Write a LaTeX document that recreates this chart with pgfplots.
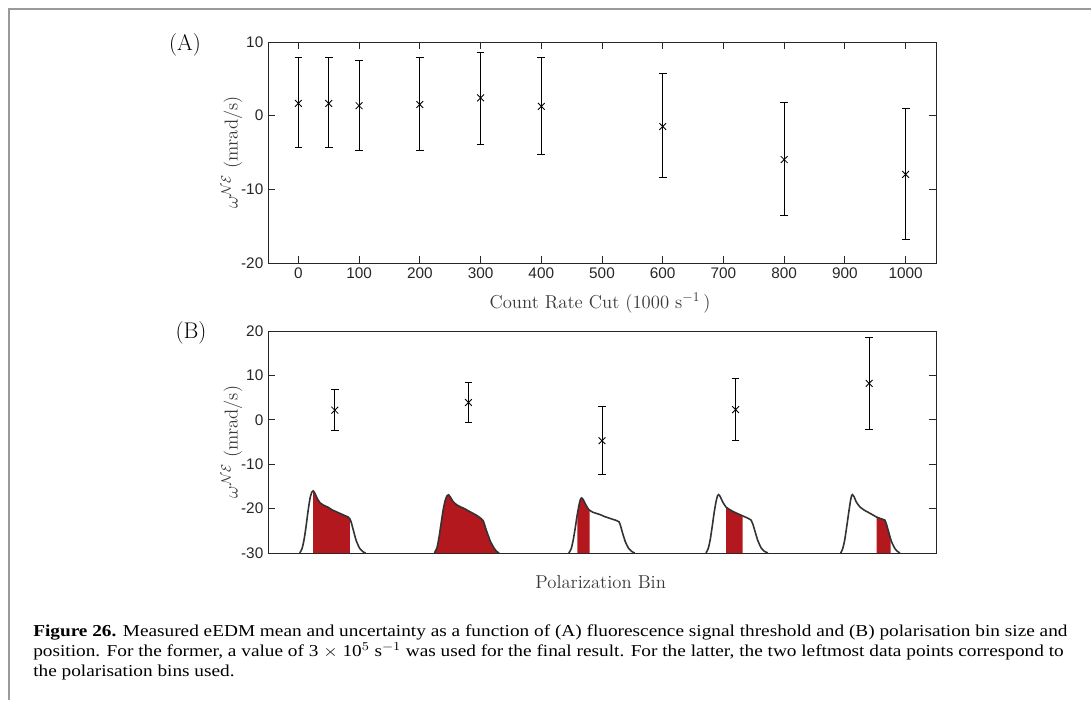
\documentclass[border=0pt]{standalone}
\usepackage{pgfplots}
\pgfplotsset{compat=1.18}
\usepackage{pgfplotstable}
\usepackage{fontspec}
\newfontfamily\ticfont{Liberation Sans}
\newfontfamily\capfont{Liberation Serif}
\definecolor{axcol}{HTML}{262626}
\definecolor{labcol}{HTML}{383838}
\definecolor{fillred}{RGB}{178,24,30}
\definecolor{curvecol}{HTML}{333333}
\definecolor{framecol}{HTML}{9A9A9A}

\pgfplotstableread{
x y ep em
0 1.66 6.19 6.01
50 1.66 6.19 6.01
100 1.35 6.18 6.01
200 1.52 6.33 6.18
300 2.42 6.23 6.28
400 1.26 6.59 6.55
600 -1.48 7.18 6.91
800 -5.96 7.75 7.63
1000 -7.98 8.92 8.88
}\dataA

\pgfplotstableread{
x y ep em
0.5 2.17 4.68 4.67
1.5 3.90 4.50 4.40
2.5 -4.70 7.80 7.60
3.5 2.30 7.00 6.90
4.5 8.20 10.30 10.30
}\dataB

\pgfplotsset{
  myax/.style={scale only axis, width=501pt, height=165.75pt, anchor=south west,
    axis line style={axcol, line width=0.7pt},
    tick style={axcol, line width=0.7pt},
    major tick length=5pt, tick align=inside,
    /pgf/number format/assume math mode=true,
    /pgf/number format/1000 sep={},
    tick label style={font=\ticfont\fontsize{11.5}{13}\selectfont, text=axcol},
    label style={font=\fontsize{14}{16}\selectfont, text=labcol},
    ylabel style={at={(axis description cs:-0.054,0.5)}, anchor=center},
  },
  errpts/.style={only marks, mark=x, mark size=3.6pt, line width=0.65pt, black,
    error bars/.cd, y dir=both, y explicit,
    error bar style={line width=0.65pt, black},
    error mark options={rotate=90, mark size=2.9pt, line width=0.65pt, black}},
  curve/.style={curvecol, line width=1.2pt, smooth, tension=0.3},
  redfill/.style={fill=fillred, draw=none},
}

\begin{document}
\begin{tikzpicture}
\useasboundingbox (0,0) rectangle (818.25pt,525pt);
\draw[framecol, line width=1.5pt] (6.75pt,0) -- (6.75pt,518.25pt) -- (818.25pt,518.25pt);

% Panel A
\begin{axis}[myax, at={(201pt,327.75pt)},
  xmin=-50, xmax=1050, ymin=-20, ymax=10,
  xtick={0,100,...,1000}, ytick={-20,-10,0,10},
  xlabel={Count Rate Cut (1000 s$^{-1}$\,)},
  xlabel style={at={(axis description cs:0.497,-0.181)}, anchor=center},
  ylabel={$\omega^{\mathcal{NE}}$ (mrad/s)},
]
\addplot[errpts] table[x=x, y=y, y error plus=ep, y error minus=em] {\dataA};
\end{axis}

% Panel B
\begin{axis}[myax, at={(201pt,110.25pt)}, height=166.5pt,
  xmin=0, xmax=5, ymin=-30, ymax=20,
  xtick=\empty, ytick={-30,-20,...,20},
  xlabel={Polarization Bin},
  xlabel style={at={(axis description cs:0.498,-0.131)}, anchor=center},
  ylabel={$\omega^{\mathcal{NE}}$ (mrad/s)},
]
% red shaded bins
\addplot[redfill] coordinates {(0.338,-30) (0.338,-16.0) (0.35,-16.5) (0.37,-17.8) (0.39,-18.7) (0.42,-19.3) (0.45,-19.7) (0.48,-20.3) (0.51,-20.7) (0.54,-21.1) (0.57,-21.5) (0.60,-21.9) (0.613,-22.3) (0.613,-30)} -- cycle;
\addplot[redfill] coordinates {(1.246,-30) (1.265,-28.8) (1.28,-26.5) (1.295,-23.5) (1.31,-20.5) (1.325,-18.3) (1.34,-17.1) (1.351,-16.9) (1.365,-17.4) (1.385,-18.4) (1.41,-19.1) (1.44,-19.6) (1.47,-20.0) (1.50,-20.5) (1.53,-21.0) (1.56,-21.5) (1.585,-22.0) (1.61,-22.7) (1.625,-24.0) (1.645,-25.8) (1.665,-27.4) (1.69,-28.8) (1.71,-29.6) (1.73,-30)} -- cycle;
\addplot[redfill] coordinates {(2.315,-30) (2.315,-21.3) (2.33,-18.9) (2.34,-17.8) (2.348,-17.6) (2.36,-18.0) (2.38,-19.2) (2.40,-20.2) (2.407,-20.4) (2.407,-30)} -- cycle;
\addplot[redfill] coordinates {(3.429,-30) (3.429,-19.7) (3.46,-20.3) (3.49,-20.8) (3.52,-21.2) (3.553,-21.6) (3.553,-30)} -- cycle;
\addplot[redfill] coordinates {(4.555,-30) (4.555,-21.9) (4.59,-22.3) (4.617,-22.6) (4.63,-23.6) (4.645,-25.2) (4.66,-26.6) (4.66,-30)} -- cycle;

% fluorescence curves
\addplot[curve] coordinates {
(0.238,-30) (0.255,-29) (0.27,-27) (0.285,-24) (0.30,-20.5) (0.315,-17.6) (0.328,-16.3) (0.338,-16.0) (0.35,-16.5) (0.37,-17.8) (0.39,-18.7) (0.42,-19.3) (0.45,-19.7) (0.48,-20.3) (0.51,-20.7) (0.54,-21.1) (0.57,-21.5) (0.60,-21.9) (0.613,-22.3) (0.625,-23.3) (0.64,-25.0) (0.66,-27.2) (0.685,-28.9) (0.71,-29.7) (0.73,-30)};
\addplot[curve] coordinates {
(1.246,-30) (1.265,-28.8) (1.28,-26.5) (1.295,-23.5) (1.31,-20.5) (1.325,-18.3) (1.34,-17.1) (1.351,-16.9) (1.365,-17.4) (1.385,-18.4) (1.41,-19.1) (1.44,-19.6) (1.47,-20.0) (1.50,-20.5) (1.53,-21.0) (1.56,-21.5) (1.585,-22.0) (1.61,-22.7) (1.625,-24.0) (1.645,-25.8) (1.665,-27.4) (1.69,-28.8) (1.71,-29.6) (1.73,-30)};
\addplot[curve] coordinates {
(2.252,-30) (2.27,-29) (2.285,-27) (2.30,-24.3) (2.315,-21.3) (2.33,-18.9) (2.34,-17.8) (2.348,-17.6) (2.36,-18.0) (2.38,-19.2) (2.40,-20.2) (2.43,-20.8) (2.46,-21.1) (2.49,-21.4) (2.52,-21.8) (2.55,-22.1) (2.58,-22.4) (2.61,-22.7) (2.628,-23.0) (2.64,-24.0) (2.655,-25.6) (2.675,-27.5) (2.70,-29.0) (2.725,-29.7) (2.745,-30)};
\addplot[curve] coordinates {
(3.278,-30) (3.295,-29) (3.31,-27) (3.325,-24) (3.34,-20.8) (3.355,-18.2) (3.365,-17.1) (3.373,-16.85) (3.385,-17.3) (3.405,-18.6) (3.43,-19.7) (3.46,-20.3) (3.49,-20.8) (3.52,-21.2) (3.55,-21.6) (3.58,-22.0) (3.60,-22.3) (3.616,-22.6) (3.63,-23.6) (3.645,-25.1) (3.665,-27.1) (3.69,-28.8) (3.715,-29.6) (3.741,-30)};
\addplot[curve] coordinates {
(4.287,-30) (4.302,-29) (4.317,-27) (4.332,-24) (4.347,-20.8) (4.36,-18.2) (4.368,-17.1) (4.374,-16.85) (4.386,-17.3) (4.405,-18.6) (4.43,-19.6) (4.46,-20.3) (4.49,-20.8) (4.52,-21.3) (4.555,-21.9) (4.59,-22.3) (4.617,-22.6) (4.63,-23.6) (4.645,-25.2) (4.665,-27.3) (4.69,-28.9) (4.71,-29.6) (4.73,-30)};

\addplot[errpts] table[x=x, y=y, y error plus=ep, y error minus=em] {\dataB};
\end{axis}

\node[font=\fontsize{17}{19}\selectfont, text=black] at (138.75pt,491.25pt) {(A)};
\node[font=\fontsize{17}{19}\selectfont, text=black] at (143.25pt,275.25pt) {(B)};

\begin{scope}[every node/.style={anchor=base west, inner sep=0pt, font=\capfont\fontsize{12.5}{14}\selectfont}]
\node at (24.75pt,48pt) {\scalebox{1.157}[1]{\textbf{Figure 26.} Measured eEDM mean and uncertainty as a function of (A) fluorescence signal threshold and (B) polarisation bin size and}};
\node at (24.75pt,33pt) {\scalebox{1.157}[1]{position. For the former, a value of 3 $\times$ 10$^{5}$ s$^{-1}$ was used for the final result. For the latter, the two leftmost data points correspond to}};
\node at (24.75pt,18pt) {\scalebox{1.157}[1]{the polarisation bins used.}};
\end{scope}
\end{tikzpicture}
\end{document}
